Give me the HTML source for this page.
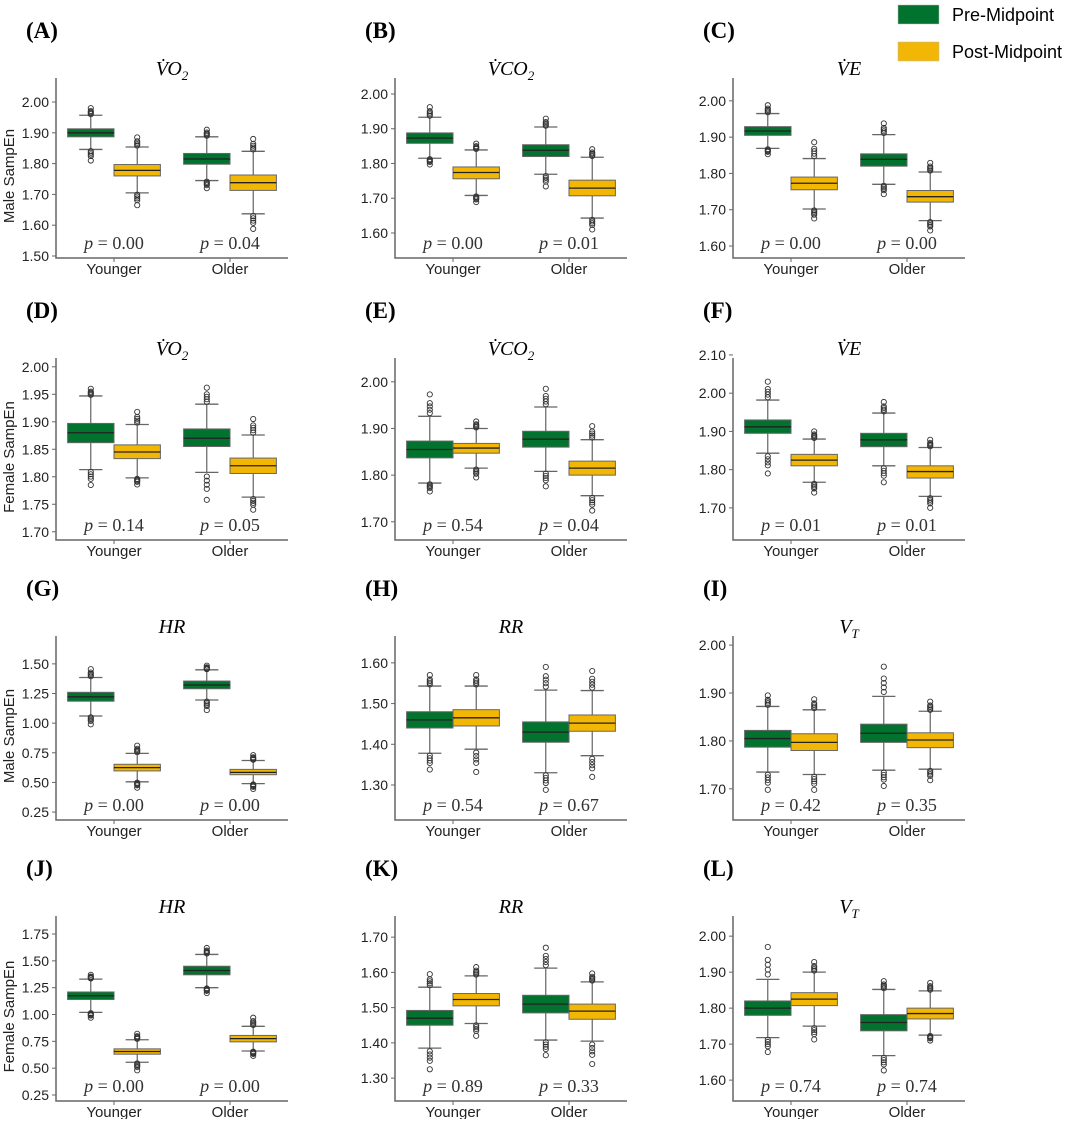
<!DOCTYPE html>
<html><head><meta charset="utf-8">
<style>
body{margin:0;background:#fff;}
svg text{font-family:"Liberation Sans",sans-serif;}
</style></head>
<body>
<svg id="fig" width="1065" height="1119" viewBox="0 0 1065 1119" xmlns="http://www.w3.org/2000/svg">
<g>
<rect x="898" y="5" width="41" height="19" fill="#02722f" stroke="#bbb" stroke-width="0.5"/>
<text x="952" y="21" font-size="18">Pre-Midpoint</text>
<rect x="898" y="42" width="41" height="19" fill="#f2b705" stroke="#bbb" stroke-width="0.5"/>
<text x="952" y="58" font-size="18">Post-Midpoint</text>
</g>
</svg>
<script>
// Panel meta
const panelLetters = ["A","B","C","D","E","F","G","H","I","J","K","L"];
const panelTitles = ["VO2","VCO2","VE","VO2","VCO2","VE","HR","RR","VT","HR","RR","VT"];
const yDomains = [[1.4935,2.078],[1.528,2.046],[1.567,2.063],[1.685,2.016],[1.661,2.051],[1.616,2.092],[0.183,1.735],[1.214,1.666],[1.635,2.019],[0.194,1.918],[1.235,1.760],[1.542,2.056]];
const yTicks = [[1.5,1.6,1.7,1.8,1.9,2.0],[1.6,1.7,1.8,1.9,2.0],[1.6,1.7,1.8,1.9,2.0],[1.7,1.75,1.8,1.85,1.9,1.95,2.0],[1.7,1.8,1.9,2.0],[1.7,1.8,1.9,2.0,2.1],[0.25,0.5,0.75,1.0,1.25,1.5],[1.3,1.4,1.5,1.6],[1.7,1.8,1.9,2.0],[0.25,0.5,0.75,1.0,1.25,1.5,1.75],[1.3,1.4,1.5,1.6,1.7],[1.6,1.7,1.8,1.9,2.0]];
const pValues = [["0.00","0.04"],["0.00","0.01"],["0.00","0.00"],["0.14","0.05"],["0.54","0.04"],["0.01","0.01"],["0.00","0.00"],["0.54","0.67"],["0.42","0.35"],["0.00","0.00"],["0.89","0.33"],["0.74","0.74"]];
const categories = ["Younger","Older"];
const rowYLabels = ["Male SampEn","Female SampEn","Male SampEn","Female SampEn"];
// box stats per panel: [YoungerPre, YoungerPost, OlderPre, OlderPost], each [q1, median, q3, whiskerLow, whiskerHigh, outlierMin, outlierMax]
const boxA = [[1.887,1.90,1.913,1.846,1.957,1.81,1.98],[1.76,1.778,1.797,1.705,1.854,1.665,1.885],[1.798,1.815,1.833,1.745,1.887,1.72,1.91],[1.713,1.738,1.763,1.637,1.84,1.588,1.88]];
const boxB = [[1.858,1.873,1.888,1.815,1.933,1.797,1.962],[1.756,1.774,1.79,1.708,1.839,1.689,1.857],[1.82,1.838,1.854,1.769,1.905,1.734,1.929],[1.707,1.729,1.752,1.643,1.818,1.61,1.841]];
const boxC = [[1.905,1.917,1.929,1.869,1.965,1.853,1.988],[1.755,1.773,1.79,1.702,1.841,1.676,1.886],[1.82,1.839,1.854,1.77,1.907,1.743,1.938],[1.721,1.736,1.753,1.67,1.804,1.643,1.829]];
const boxD = [[1.862,1.88,1.897,1.813,1.947,1.785,1.96],[1.833,1.845,1.858,1.798,1.895,1.786,1.918],[1.855,1.87,1.887,1.808,1.932,1.758,1.962],[1.806,1.82,1.834,1.763,1.876,1.74,1.905]];
const boxE = [[1.837,1.855,1.873,1.783,1.926,1.765,1.973],[1.847,1.858,1.868,1.815,1.9,1.795,1.915],[1.86,1.877,1.894,1.808,1.946,1.776,1.985],[1.8,1.815,1.83,1.756,1.876,1.724,1.905]];
const boxF = [[1.895,1.912,1.93,1.843,1.982,1.79,2.03],[1.81,1.825,1.84,1.767,1.88,1.74,1.9],[1.86,1.878,1.895,1.81,1.948,1.767,1.977],[1.778,1.795,1.81,1.73,1.858,1.7,1.878]];
const boxG = [[1.185,1.222,1.26,1.06,1.385,0.99,1.455],[0.597,0.625,0.653,0.505,0.745,0.455,0.81],[1.29,1.322,1.355,1.195,1.45,1.11,1.485],[0.565,0.585,0.61,0.49,0.685,0.445,0.73]];
const boxH = [[1.44,1.46,1.48,1.378,1.543,1.338,1.57],[1.445,1.465,1.485,1.388,1.543,1.332,1.57],[1.405,1.43,1.455,1.33,1.533,1.288,1.59],[1.432,1.452,1.472,1.372,1.532,1.32,1.58]];
const boxI = [[1.787,1.805,1.822,1.735,1.872,1.698,1.895],[1.78,1.797,1.815,1.73,1.865,1.698,1.887],[1.797,1.816,1.835,1.739,1.893,1.706,1.955],[1.786,1.802,1.817,1.741,1.862,1.718,1.882]];
const boxJ = [[1.14,1.175,1.21,1.02,1.33,0.97,1.37],[0.63,0.655,0.68,0.555,0.765,0.48,0.82],[1.37,1.41,1.45,1.25,1.56,1.2,1.62],[0.745,0.775,0.805,0.66,0.89,0.615,0.97]];
const boxK = [[1.45,1.47,1.492,1.385,1.558,1.325,1.595],[1.505,1.523,1.54,1.455,1.59,1.42,1.615],[1.485,1.51,1.535,1.408,1.612,1.365,1.67],[1.467,1.49,1.51,1.405,1.573,1.34,1.597]];
const boxL = [[1.78,1.8,1.82,1.718,1.88,1.678,1.97],[1.807,1.825,1.843,1.75,1.9,1.713,1.928],[1.737,1.76,1.782,1.668,1.852,1.627,1.875],[1.77,1.785,1.8,1.725,1.848,1.71,1.87]];
const allBoxes = [boxA,boxB,boxC,boxD,boxE,boxF,boxG,boxH,boxI,boxJ,boxK,boxL];

const NS = "http://www.w3.org/2000/svg";
const svg = document.getElementById("fig");
const colLeft = [56, 395, 733];
const rowTop = [78, 358, 636, 916];
const rowBottom = [258, 540, 820, 1101];
const axW = 232;
const fills = ["#02722f","#f2b705"];

function mk(tag, attrs, parent){
  const e = document.createElementNS(NS, tag);
  for (const k in attrs) e.setAttribute(k, attrs[k]);
  (parent||svg).appendChild(e);
  return e;
}
function titleSpans(t, el){
  const map = {VO2:["V\u0307","O","2"],VCO2:["V\u0307","CO","2"],VE:["V\u0307","E",""],HR:["H","R",""],RR:["R","R",""],VT:["V","","T"]};
  const p = map[t];
  const a = mk("tspan",{},el); a.textContent = p[0];
  if (p[1]) { const b = mk("tspan",{},el); b.textContent = p[1]; }
  if (p[2]) { const c = mk("tspan",{"font-size":"13","dy":"5"},el); c.textContent = p[2]; }
}

for (let i=0;i<12;i++){
  const r = Math.floor(i/3), c = i%3;
  const L = colLeft[c], T = rowTop[r], B = rowBottom[r];
  const dom = yDomains[i];
  const y = v => B - (v-dom[0])/(dom[1]-dom[0])*(B-T);
  const xCat = k => L + axW*(0.25 + 0.5*k);
  const bw = axW*0.2;
  const g = mk("g",{});
  
  

  const lab = mk("text",{x:L-30,y:T-40,"font-size":"23","font-weight":"bold",style:"font-family:'Liberation Serif',serif"},g);
  
  
  lab.textContent = "("+panelLetters[i]+")";

  const tt = mk("text",{x:L+axW/2,y:T-3,"text-anchor":"middle","font-size":"20","font-style":"italic",style:"font-family:'Liberation Serif',serif"},g);
  
  
  titleSpans(panelTitles[i], tt);

  const ax = mk("path",{d:`M${L},${T} V${B} H${L+axW}`,fill:"none",stroke:"#666","stroke-width":"1.5"},g);
  
  

  yTicks[i].forEach(v=>{
    mk("line",{x1:L-4,x2:L,y1:y(v),y2:y(v),stroke:"#666","stroke-width":"1"},g);
    const t = mk("text",{x:L-7,y:y(v)+5,"text-anchor":"end","font-size":"14",fill:"#222"},g);
    
    
    t.textContent = v.toFixed(2);
  });
  categories.forEach((cn,k)=>{
    mk("line",{x1:xCat(k),x2:xCat(k),y1:B,y2:B+4,stroke:"#666","stroke-width":"1"},g);
    const t = mk("text",{x:xCat(k),y:B+16,"text-anchor":"middle","font-size":"15",fill:"#222"},g);
    
    
    t.textContent = cn;
    const p = mk("text",{x:xCat(k),y:B-9,"text-anchor":"middle","font-size":"18",fill:"#333",style:"font-family:'Liberation Serif',serif"},g);
    
    
    const pi = mk("tspan",{"font-style":"italic"},p); pi.textContent = "p";
    const pv = mk("tspan",{},p); pv.textContent = " = " + pValues[i][k];
  });
  if (c===0){
    const yl = mk("text",{x:0,y:0,transform:`translate(${L-42},${(T+B)/2+8}) rotate(-90)`,"text-anchor":"middle","font-size":"15",fill:"#222"},g);
    
    
    yl.textContent = rowYLabels[r];
  }
  allBoxes[i].forEach((s,j)=>{
    const k = Math.floor(j/2), h = j%2;
    const cx = xCat(k) + (h===0 ? -bw/2 : bw/2);
    const bg = mk("g",{},g);
    
    
    mk("line",{x1:cx,x2:cx,y1:y(s[3]),y2:y(s[0]),stroke:"#444","stroke-width":"1"},bg);
    mk("line",{x1:cx,x2:cx,y1:y(s[2]),y2:y(s[4]),stroke:"#444","stroke-width":"1"},bg);
    mk("line",{x1:cx-bw/4,x2:cx+bw/4,y1:y(s[3]),y2:y(s[3]),stroke:"#666","stroke-width":"1.3"},bg);
    mk("line",{x1:cx-bw/4,x2:cx+bw/4,y1:y(s[4]),y2:y(s[4]),stroke:"#666","stroke-width":"1.3"},bg);
    mk("rect",{x:cx-bw/2,y:y(s[2]),width:bw,height:y(s[0])-y(s[2]),fill:fills[h],stroke:"#666","stroke-width":"1"},bg);
    mk("line",{x1:cx-bw/2,x2:cx+bw/2,y1:y(s[1]),y2:y(s[1]),stroke:"#222","stroke-width":"1.3"},bg);
    const lowPts = [s[5], s[3]-(s[3]-s[5])*0.15, s[3]-(s[3]-s[5])*0.3, s[3]-(s[3]-s[5])*0.45, s[3]-(s[3]-s[5])*0.6];
    const hiPts = [s[6], s[4]+(s[6]-s[4])*0.15, s[4]+(s[6]-s[4])*0.3, s[4]+(s[6]-s[4])*0.45, s[4]+(s[6]-s[4])*0.6];
    lowPts.concat(hiPts).forEach(v=>{
      mk("circle",{cx:cx,cy:y(v),r:2.6,fill:"none",stroke:"#333","stroke-width":"0.9"},bg);
    });
  });
}
</script>
</body></html>
